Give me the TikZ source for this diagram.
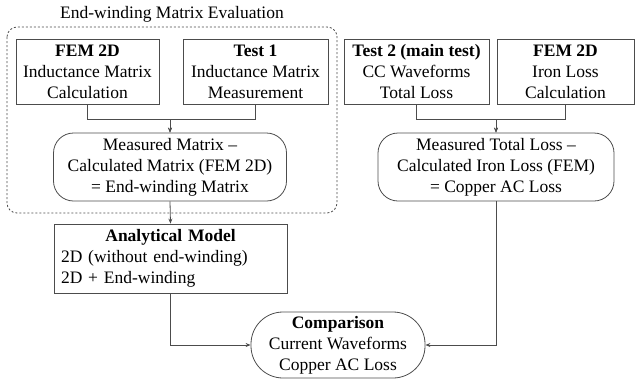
\documentclass[tikz,border=0pt]{standalone}
\usepackage{fontspec}
\setmainfont{Liberation Serif}
\usetikzlibrary{arrows.meta}

\tikzset{
    block/.style={draw=black!70, line width=0.8pt, rectangle, align=center,
        inner sep=2pt, minimum height=65pt},
    roundblock/.style={block, rounded corners=20pt, minimum height=68pt},
    flow/.style={draw=black!70, line width=0.8pt, -{Stealth[length=5pt,width=4pt]}},
}

\begin{document}
\begin{tikzpicture}[x=1pt, y=-1pt, font=\fontsize{17.5}{21}\selectfont]
    \useasboundingbox (0,0) rectangle (636,380);

    % Rahmen fuer die Wickelkopf-Auswertung
    \draw[black!70, line width=0.8pt, dashed, dash pattern=on 2pt off 2pt, rounded corners=10pt]
        (7,27) rectangle (337,213);
    \node (title) at (172,14) {End-winding Matrix Evaluation};

    % obere Bloecke
    \node[block, minimum width=143pt] (fema) at (87.5,71.5)
        {\textbf{FEM 2D}\\Inductance Matrix\\Calculation};
    \node[block, minimum width=145pt] (testa) at (255.5,71.5)
        {\textbf{Test 1}\\Inductance Matrix\\Measurement};
    \node[block, minimum width=145pt] (testb) at (416.5,71.5)
        {\textbf{Test 2 (main test)}\\CC Waveforms\\Total Loss};
    \node[block, minimum width=137pt] (femb) at (565.5,71.5)
        {\textbf{FEM 2D}\\Iron Loss\\Calculation};

    % Differenzen
    \node[roundblock, minimum width=233pt] (diffa) at (170,167)
        {Measured Matrix --\\Calculated Matrix (FEM 2D)\\= End-winding Matrix};
    \node[roundblock, minimum width=236pt] (diffb) at (496,167)
        {Measured Total Loss --\\Calculated Iron Loss (FEM)\\= Copper AC Loss};

    % Modell und Vergleich
    \node[block, minimum width=233pt, minimum height=69pt, text width=219pt, align=left] (model) at (170.5,258.5)
        {\centering\textbf{Analytical Model}\par\raggedright 2D (without end-winding)\\2D + End-winding};
    \node[roundblock, rounded corners=32pt, minimum width=174pt, minimum height=66pt] (comp) at (338,345)
        {\textbf{Comparison}\\Current Waveforms\\Copper AC Loss};

    % Verbindungen
    \draw[flow] (fema.south) -- ++(0,15) -| (diffa.north);
    \draw[flow] (testa.south) -- ++(0,15) -| (diffa.north);
    \draw[flow] (testb.south) -- ++(0,15) -| (diffb.north);
    \draw[flow] (femb.south) -- ++(0,15) -| (diffb.north);
    \draw[flow] (diffa.south) -- (model.north);
    \draw[flow] (model.south) |- (comp.west);
    \draw[flow] (diffb.south) |- (comp.east);
\end{tikzpicture}
\end{document}
